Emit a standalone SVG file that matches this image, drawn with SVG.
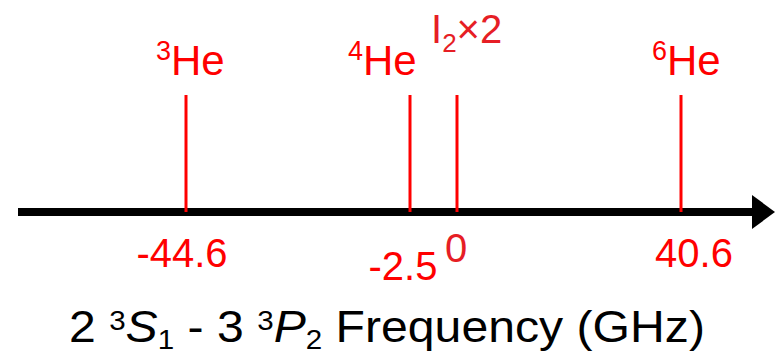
<svg xmlns="http://www.w3.org/2000/svg" width="776" height="356" viewBox="0 0 776 356">
<style>
.r{fill:#ff0000;font-family:"Liberation Sans",Arial,sans-serif;font-size:40px}
.h{font-size:42px}
.d{fill:#e61e25}
.k{fill:#000;font-family:"Liberation Sans",Arial,sans-serif;font-size:44px}
.t{stroke:#ff0000;stroke-width:3}
</style>
<rect width="776" height="356" fill="#fff"/>
<g id="connectors">
<line x1="18" y1="212" x2="756" y2="212" stroke="#000" stroke-width="8"/>
<polygon points="752,195 775,212 752,229" fill="#000"/>
</g>
<g id="he3">
<line class="t" x1="186" y1="95" x2="186" y2="212"/>
<text class="r h" x="156" y="75"><tspan font-size="27" dy="-15">3</tspan><tspan dy="15">He</tspan></text>
<text class="r" x="182" y="267" text-anchor="middle">-44.6</text>
</g>
<g id="he4">
<line class="t" x1="410" y1="95" x2="410" y2="212"/>
<text class="r h" x="348" y="75"><tspan font-size="27" dy="-15">4</tspan><tspan dy="15">He</tspan></text>
<text class="r" x="403" y="280" text-anchor="middle" font-size="42">-2.5</text>
</g>
<g id="i2">
<line class="t" x1="457" y1="95" x2="457" y2="212"/>
<text class="r d" x="431" y="43"><tspan>I</tspan><tspan font-size="26" dy="9">2</tspan><tspan dy="-9">×2</tspan></text>
<text class="r d" x="456" y="262" text-anchor="middle" font-size="38">0</text>
</g>
<g id="he6">
<line class="t" x1="681" y1="95" x2="681" y2="212"/>
<text class="r h" x="652" y="75"><tspan font-size="27" dy="-15">6</tspan><tspan dy="15">He</tspan></text>
<text class="r" x="694" y="267" text-anchor="middle">40.6</text>
</g>
<g id="title">
<text class="k" transform="translate(69,342) scale(1.095,1)" x="0" y="0">2 <tspan font-size="27" dy="-12">3</tspan><tspan dy="12" font-style="italic">S</tspan><tspan font-size="27" dy="7">1</tspan><tspan dy="-7"> - 3 </tspan><tspan font-size="27" dy="-12">3</tspan><tspan dy="12" font-style="italic">P</tspan><tspan font-size="27" dy="7">2</tspan><tspan dy="-7"> Frequency (GHz)</tspan></text>
</g>
</svg>
